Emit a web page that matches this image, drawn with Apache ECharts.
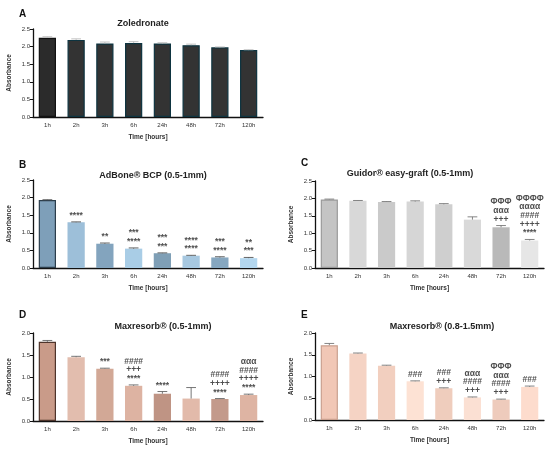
<!DOCTYPE html>
<html>
<head>
<meta charset="utf-8">
<script src="https://cdn.jsdelivr.net/npm/echarts@6/dist/echarts.min.js"></script>
<style>
  html, body { margin: 0; padding: 0; background: #fff; }
  #main { width: 550px; height: 450px; }
</style>
</head>
<body>
<div id="main"></div>
<script>
// 时间点
var categories = ['1h', '2h', '3h', '6h', '24h', '48h', '72h', '120h'];

// A Zoledronate
var zolValues = [2.25, 2.19, 2.09, 2.10, 2.09, 2.04, 1.98, 1.90];
var zolErrors = [0.03, 0.03, 0.04, 0.04, 0.02, 0.03, 0.01, 0.01];
var zolNotes = ['', '', '', '', '', '', '', ''];

// B AdBone BCP
var bcpValues = [1.93, 1.30, 0.69, 0.55, 0.42, 0.35, 0.30, 0.28];
var bcpErrors = [0.01, 0.01, 0.02, 0.02, 0.01, 0.01, 0.02, 0.02];
var bcpNotes = ['', '****', '**', '***\n****', '***\n***', '****\n****', '***\n****', '**\n***'];

// C Guidor easy-graft
var guiValues = [1.97, 1.93, 1.90, 1.91, 1.83, 1.39, 1.17, 0.79];
var guiErrors = [0.01, 0.01, 0.01, 0.02, 0.02, 0.08, 0.05, 0.03];
var guiNotes = ['', '', '', '', '', '', 'ΦΦΦ\nααα\n+++', 'ΦΦΦΦ\nαααα\n####\n++++\n****'];

// D Maxresorb 0.5-1mm
var mx1Values = [1.80, 1.45, 1.19, 0.80, 0.62, 0.51, 0.50, 0.59];
var mx1Errors = [0.03, 0.02, 0.01, 0.02, 0.05, 0.25, 0.01, 0.02];
var mx1Notes = ['', '', '***', '####\n+++\n****', '****', '', '####\n++++\n****', 'ααα\n####\n++++\n****'];

// E Maxresorb 0.8-1.5mm
var mx2Values = [1.72, 1.53, 1.25, 0.89, 0.73, 0.52, 0.47, 0.76];
var mx2Errors = [0.04, 0.01, 0.01, 0.01, 0.01, 0.01, 0.01, 0.02];
var mx2Notes = ['', '', '', '###', '###\n+++', 'ααα\n####\n+++', 'ΦΦΦ\nααα\n####\n+++', '###'];

var panels = [
  { letter: 'A', title: 'Zoledronate', values: zolValues, errors: zolErrors, notes: zolNotes, max: 2.5,
    colors: ['#2b2b2b', '#333333', '#333333', '#333333', '#333333', '#333333', '#333333', '#333333'],
    borders: ['#111111', '#0e3440', '#0e3440', '#0e3440', '#0e3440', '#0e3440', '#0e3440', '#0e3440'],
    errColor: '#bbbbbb', grid: { left: 33, top: 29, width: 230, height: 88 },
    titlePos: [138, 14], letterPos: [14, 4] },
  { letter: 'B', title: 'AdBone® BCP (0.5-1mm)', values: bcpValues, errors: bcpErrors, notes: bcpNotes, max: 2.5,
    colors: ['#7e9fb9', '#9dbfd9', '#83a4be', '#a9cde6', '#7f9fb6', '#a7c8e0', '#86a7c0', '#b3d6ee'],
    borders: ['#2c3e4c', null, null, null, null, null, null, null],
    errColor: '#555555', grid: { left: 33, top: 180, width: 230, height: 88 },
    titlePos: [148, 166], letterPos: [14, 155] },
  { letter: 'C', title: 'Guidor® easy-graft (0.5-1mm)', values: guiValues, errors: guiErrors, notes: guiNotes, max: 2.5,
    colors: ['#c4c4c4', '#d8d8d8', '#cacaca', '#d6d6d6', '#cfcfcf', '#d9d9d9', '#b9b9b9', '#e6e6e6'],
    borders: ['#9a9a9a', null, null, null, null, null, null, null],
    errColor: '#777777', grid: { left: 315, top: 181, width: 229, height: 87 },
    titlePos: [405, 164], letterPos: [296, 153] },
  { letter: 'D', title: 'Maxresorb® (0.5-1mm)', values: mx1Values, errors: mx1Errors, notes: mx1Notes, max: 2.0,
    colors: ['#c99b89', '#e2bdae', '#d2a896', '#ddb3a2', '#bf9484', '#e2baaa', '#c39a8b', '#deb4a3'],
    borders: ['#4e342b', null, null, null, null, null, null, null],
    errColor: '#666666', grid: { left: 33, top: 333, width: 230, height: 88 },
    titlePos: [158, 317], letterPos: [14, 305] },
  { letter: 'E', title: 'Maxresorb® (0.8-1.5mm)', values: mx2Values, errors: mx2Errors, notes: mx2Notes, max: 2.0,
    colors: ['#f1c7b6', '#f5d3c4', '#f2cfbf', '#fde2d4', '#efcdbd', '#fbe0d3', '#eecbbc', '#fddccd'],
    borders: ['#c9a08f', null, null, null, null, null, null, null],
    errColor: '#777777', grid: { left: 315, top: 333, width: 229, height: 87 },
    titlePos: [437, 317], letterPos: [296, 305] }
];

var myChart = echarts.init(document.getElementById('main'), null, { renderer: 'canvas' });

var font = 'Liberation Sans, Arial, sans-serif';
var titles = [], grids = [], xAxes = [], yAxes = [], series = [];

panels.forEach(function (p, i) {
  titles.push({
    text: p.letter, left: p.letterPos[0], top: p.letterPos[1],
    textStyle: { fontSize: 10, fontWeight: 'bold', color: '#111', fontFamily: font }
  });
  titles.push({
    text: p.title, left: p.titlePos[0], top: p.titlePos[1], textAlign: 'center',
    textStyle: { fontSize: 9, fontWeight: 'bold', color: '#222', fontFamily: font }
  });
  grids.push(p.grid);
  xAxes.push({
    type: 'category', gridIndex: i, data: categories,
    name: 'Time [hours]', nameLocation: 'middle', nameGap: 17,
    nameTextStyle: { fontSize: 6.5, fontWeight: 'bold', color: '#333', fontFamily: font },
    axisLine: { lineStyle: { color: '#111', width: 1.3 } },
    axisTick: { alignWithLabel: true, length: 3, lineStyle: { color: '#111' } },
    axisLabel: { fontSize: 6, color: '#333', margin: 5, fontFamily: font }
  });
  yAxes.push({
    type: 'value', gridIndex: i, min: 0, max: p.max, interval: 0.5,
    name: 'Absorbance', nameLocation: 'middle', nameGap: 20,
    nameTextStyle: { fontSize: 6.5, fontWeight: 'bold', color: '#333', fontFamily: font },
    axisLine: { show: true, lineStyle: { color: '#111', width: 1.3 } },
    axisTick: { show: true, length: 3, lineStyle: { color: '#111' } },
    splitLine: { show: false },
    axisLabel: { fontSize: 6, color: '#333', margin: 3, fontFamily: font,
      formatter: function (v) { return v.toFixed(1); } }
  });

  // 柱子
  series.push({
    type: 'bar', xAxisIndex: i, yAxisIndex: i, barCategoryGap: '40%',
    data: p.values.map(function (v, k) {
      return {
        value: v,
        itemStyle: {
          color: p.colors[k],
          borderColor: p.borders[k] || p.colors[k],
          borderWidth: p.borders[k] ? 1.2 : 0
        }
      };
    }),
    silent: true
  });

  // 误差线
  (function (errColor) {
    series.push({
      type: 'custom', xAxisIndex: i, yAxisIndex: i, silent: true, z: 5,
      data: p.values.map(function (v, k) { return [k, v, p.errors[k]]; }),
      renderItem: function (params, api) {
        var x = api.value(0), y = api.value(1), e = api.value(2);
        var base = api.coord([x, y]);
        var top = api.coord([x, y + e]);
        var w = api.size([1, 0])[0] * 0.17;
        return {
          type: 'group',
          children: [
            { type: 'line', shape: { x1: base[0], y1: base[1], x2: top[0], y2: top[1] },
              style: { stroke: errColor, lineWidth: 0.9 } },
            { type: 'line', shape: { x1: top[0] - w, y1: top[1], x2: top[0] + w, y2: top[1] },
              style: { stroke: errColor, lineWidth: 0.9 } }
          ]
        };
      }
    });
  })(p.errColor);

  // 显著性标记
  series.push({
    type: 'scatter', xAxisIndex: i, yAxisIndex: i, symbolSize: 0, silent: true, z: 6,
    data: p.values.map(function (v, k) { return [k, v + p.errors[k]]; }),
    label: {
      show: true, position: 'top', distance: 2,
      fontSize: 8.5, lineHeight: 8.7, fontWeight: 'bold', color: '#222', fontFamily: font,
      formatter: function (d) { return p.notes[d.dataIndex]; }
    }
  });
});

var option = {
  backgroundColor: '#ffffff',
  animation: false,
  title: titles,
  grid: grids,
  xAxis: xAxes,
  yAxis: yAxes,
  series: series
};

myChart.setOption(option);
</script>
</body>
</html>
